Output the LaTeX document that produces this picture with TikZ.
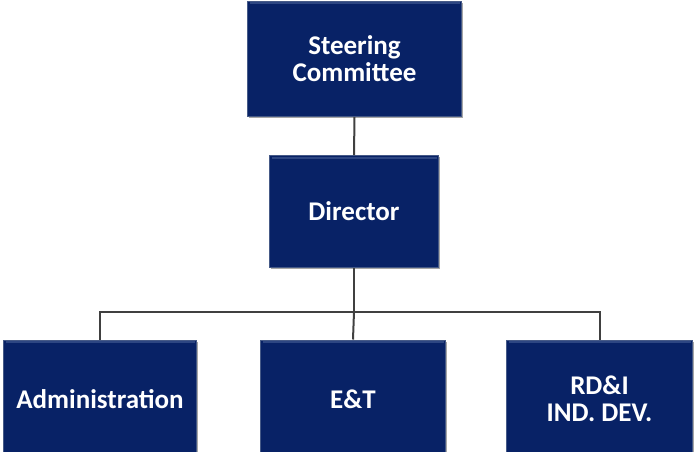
\documentclass[tikz,border=0pt]{standalone}
\usepackage{fontspec}
\setmainfont{Carlito}
\usetikzlibrary{shadows}
\definecolor{navy}{RGB}{8,34,102}
\definecolor{navyedge}{RGB}{70,90,135}
\definecolor{navyhi}{RGB}{45,70,130}
\definecolor{conn}{RGB}{64,64,64}
\tikzset{
  orgbox/.style={draw=navyedge, line width=1pt, fill=navy, text=white,
    font=\fontsize{27}{27}\selectfont\bfseries, align=center, inner sep=0pt,
    drop shadow={shadow xshift=1.5pt, shadow yshift=-1.5pt, fill=black, opacity=.35},
    path picture={\draw[navyhi, line width=2pt]
      ([xshift=2pt,yshift=-2pt]path picture bounding box.north west) --
      ([xshift=-2pt,yshift=-2pt]path picture bounding box.north east);}},
  link/.style={draw=conn, line width=2pt}
}
\begin{document}
\begin{tikzpicture}[x=1pt,y=-1pt]
\useasboundingbox (0,0) rectangle (694,452);
\node[orgbox, minimum width=214pt, minimum height=115pt] (sc) at (354.5,59) {Steering\\Committee};
\node[orgbox, minimum width=169pt, minimum height=112pt] (dir) at (354,211.5) {Director};
\node[orgbox, minimum width=193pt, minimum height=118pt] (adm) at (100,399) {Administration};
\node[orgbox, minimum width=185pt, minimum height=118pt] (et) at (353,399) {E\&T};
\node[orgbox, minimum width=186pt, minimum height=118pt] (rdi) at (599.5,399) {RD\&I\\IND. DEV.};
\coordinate (bus) at (354,312);
\draw[link] (sc.south) -- (dir.north);
\draw[link] (dir.south) -- (bus);
\draw[link] (adm.north) |- (bus) -| (rdi.north);
\draw[link] (bus) -- (et.north);
\end{tikzpicture}
\end{document}
